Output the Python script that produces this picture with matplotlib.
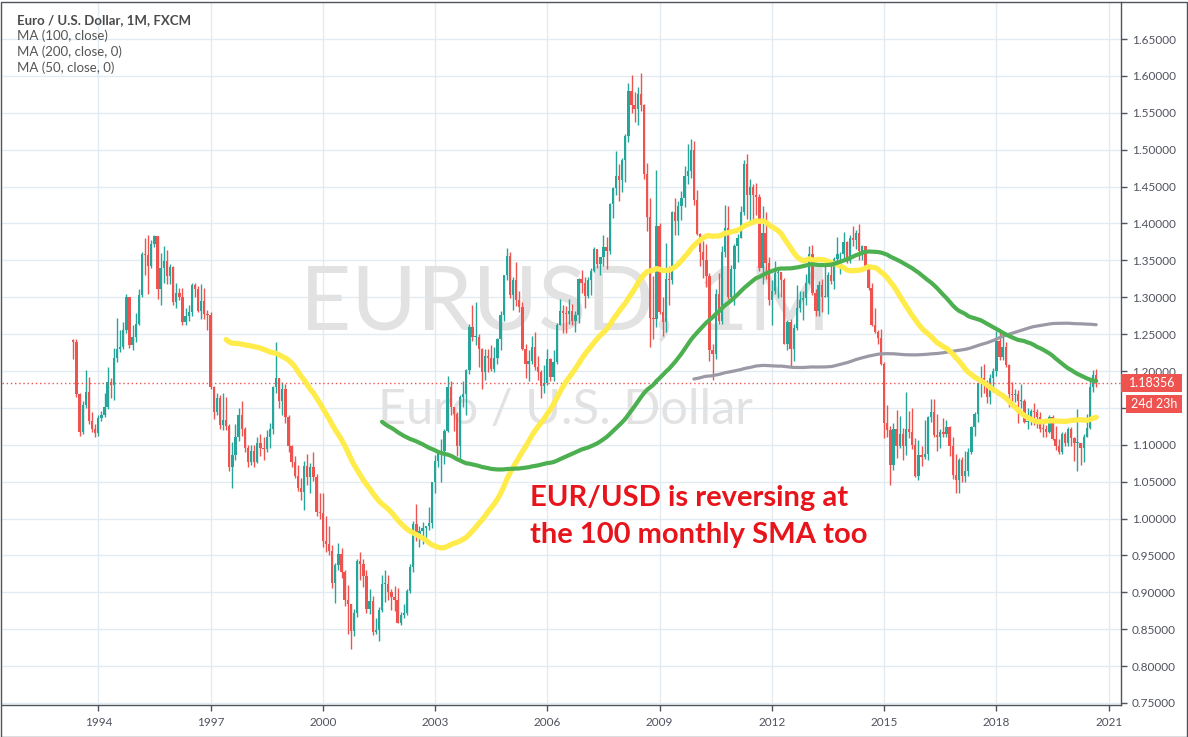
import numpy as np
import pandas as pd
import matplotlib
matplotlib.use("Agg")
import matplotlib.pyplot as plt
from matplotlib.patches import Rectangle

# EUR/USD monthly candles, May 1993 .. Sep 2020 (open = previous close)
first_open = 1.2425

close_1990s = [1.240, 1.169, 1.117, 1.154, 1.171, 1.132, 1.122, 1.116,
               1.136, 1.140, 1.151, 1.185, 1.181, 1.218, 1.230, 1.233, 1.255, 1.301, 1.235, 1.246,
               1.264, 1.303, 1.359, 1.357, 1.343, 1.372, 1.383, 1.311, 1.339, 1.349, 1.329, 1.341,
               1.294, 1.306, 1.300, 1.266, 1.275, 1.280, 1.317, 1.311, 1.282, 1.295, 1.277, 1.276,
               1.178, 1.145, 1.163, 1.127, 1.134, 1.126, 1.070, 1.086, 1.111, 1.140, 1.121, 1.096,
               1.077, 1.092, 1.076, 1.103, 1.095, 1.094, 1.110, 1.122, 1.178, 1.190, 1.159, 1.175,
               1.138, 1.098, 1.077, 1.058, 1.042, 1.036, 1.071, 1.056, 1.070, 1.056, 1.009, 1.008]
high_1990s = [1.244, 1.243, 1.170, 1.160, 1.202, 1.192, 1.145, 1.128,
              1.140, 1.146, 1.170, 1.206, 1.190, 1.231, 1.272, 1.255, 1.266, 1.305, 1.301, 1.262,
              1.278, 1.311, 1.361, 1.381, 1.384, 1.377, 1.384, 1.383, 1.360, 1.370, 1.364, 1.345,
              1.343, 1.320, 1.312, 1.312, 1.285, 1.290, 1.320, 1.320, 1.315, 1.318, 1.312, 1.283,
              1.280, 1.180, 1.170, 1.168, 1.170, 1.165, 1.128, 1.104, 1.128, 1.150, 1.160, 1.124,
              1.100, 1.100, 1.100, 1.110, 1.115, 1.110, 1.120, 1.130, 1.180, 1.239, 1.190, 1.185,
              1.183, 1.140, 1.100, 1.085, 1.072, 1.055, 1.078, 1.088, 1.075, 1.090, 1.060, 1.034]
low_1990s = [1.216, 1.165, 1.112, 1.114, 1.150, 1.128, 1.118, 1.110,
             1.112, 1.132, 1.138, 1.148, 1.164, 1.161, 1.212, 1.226, 1.230, 1.252, 1.231, 1.229,
             1.240, 1.262, 1.300, 1.330, 1.305, 1.340, 1.368, 1.297, 1.290, 1.320, 1.318, 1.318,
             1.289, 1.285, 1.296, 1.262, 1.262, 1.268, 1.275, 1.300, 1.280, 1.270, 1.270, 1.255,
             1.175, 1.135, 1.140, 1.122, 1.120, 1.120, 1.065, 1.041, 1.080, 1.105, 1.112, 1.090,
             1.070, 1.072, 1.070, 1.075, 1.085, 1.080, 1.090, 1.095, 1.115, 1.170, 1.150, 1.140,
             1.130, 1.090, 1.070, 1.055, 1.038, 1.025, 1.012, 1.045, 1.035, 1.051, 1.003, 1.000]

close_2000s = [0.970, 0.965, 0.956, 0.912, 0.937, 0.952, 0.927, 0.890, 0.884, 0.848, 0.872, 0.943,
               0.939, 0.922, 0.877, 0.888, 0.846, 0.849, 0.876, 0.911, 0.911, 0.900, 0.893, 0.890,
               0.859, 0.869, 0.872, 0.902, 0.934, 0.992, 0.977, 0.983, 0.987, 0.990, 0.994, 1.049,
               1.078, 1.090, 1.092, 1.119, 1.178, 1.151, 1.142, 1.099, 1.165, 1.169, 1.201, 1.260,
               1.246, 1.246, 1.230, 1.198, 1.220, 1.217, 1.203, 1.218, 1.243, 1.276, 1.330, 1.356,
               1.303, 1.323, 1.296, 1.287, 1.230, 1.209, 1.213, 1.233, 1.206, 1.198, 1.180, 1.184,
               1.216, 1.192, 1.212, 1.262, 1.281, 1.279, 1.277, 1.281, 1.268, 1.276, 1.325, 1.320,
               1.302, 1.323, 1.336, 1.366, 1.345, 1.354, 1.368, 1.363, 1.427, 1.448, 1.464, 1.459,
               1.486, 1.519, 1.579, 1.561, 1.555, 1.576, 1.561, 1.467, 1.409, 1.272, 1.270, 1.397,
               1.280, 1.267, 1.325, 1.323, 1.416, 1.403, 1.424, 1.434, 1.464, 1.471, 1.500, 1.432]
high_2000s = [1.035, 1.004, 0.990, 0.964, 0.940, 0.967, 0.960, 0.930, 0.910, 0.880, 0.878, 0.945,
              0.955, 0.945, 0.930, 0.905, 0.895, 0.865, 0.880, 0.924, 0.930, 0.923, 0.905, 0.909,
              0.906, 0.873, 0.884, 0.905, 0.938, 0.996, 1.020, 0.990, 0.995, 0.990, 1.015, 1.050,
              1.086, 1.093, 1.108, 1.122, 1.193, 1.186, 1.151, 1.145, 1.167, 1.186, 1.203, 1.264,
              1.289, 1.293, 1.250, 1.231, 1.230, 1.230, 1.235, 1.233, 1.245, 1.281, 1.330, 1.367,
              1.362, 1.327, 1.348, 1.308, 1.294, 1.237, 1.228, 1.248, 1.253, 1.221, 1.202, 1.208,
              1.230, 1.218, 1.228, 1.265, 1.298, 1.290, 1.288, 1.297, 1.291, 1.281, 1.326, 1.337,
              1.327, 1.328, 1.339, 1.368, 1.366, 1.355, 1.384, 1.382, 1.428, 1.450, 1.498, 1.480,
              1.489, 1.522, 1.590, 1.601, 1.578, 1.585, 1.604, 1.562, 1.482, 1.434, 1.329, 1.472,
              1.400, 1.301, 1.374, 1.342, 1.417, 1.434, 1.431, 1.444, 1.478, 1.508, 1.514, 1.512]
low_2000s = [0.962, 0.955, 0.951, 0.906, 0.886, 0.930, 0.920, 0.881, 0.844, 0.823, 0.841, 0.866,
             0.916, 0.907, 0.872, 0.870, 0.842, 0.844, 0.834, 0.873, 0.887, 0.890, 0.876, 0.875,
             0.858, 0.856, 0.865, 0.869, 0.899, 0.928, 0.970, 0.962, 0.966, 0.970, 0.985, 0.987,
             1.035, 1.070, 1.050, 1.074, 1.118, 1.141, 1.119, 1.085, 1.077, 1.151, 1.141, 1.196,
             1.241, 1.235, 1.206, 1.176, 1.188, 1.199, 1.200, 1.198, 1.209, 1.228, 1.268, 1.323,
             1.299, 1.283, 1.288, 1.280, 1.228, 1.190, 1.187, 1.210, 1.201, 1.188, 1.164, 1.170,
             1.181, 1.186, 1.187, 1.209, 1.264, 1.252, 1.251, 1.264, 1.262, 1.253, 1.265, 1.306,
             1.285, 1.299, 1.303, 1.334, 1.339, 1.330, 1.343, 1.338, 1.359, 1.408, 1.438, 1.430,
             1.443, 1.456, 1.510, 1.550, 1.537, 1.534, 1.553, 1.460, 1.390, 1.233, 1.244, 1.260,
             1.277, 1.248, 1.253, 1.290, 1.318, 1.385, 1.385, 1.405, 1.422, 1.454, 1.462, 1.425]

close_2010s = [1.386, 1.362, 1.351, 1.329, 1.229, 1.223, 1.305, 1.268, 1.362, 1.394, 1.300, 1.338,
               1.369, 1.381, 1.416, 1.481, 1.438, 1.450, 1.439, 1.436, 1.339, 1.387, 1.346, 1.296,
               1.308, 1.333, 1.334, 1.324, 1.237, 1.266, 1.230, 1.258, 1.286, 1.296, 1.299, 1.319,
               1.358, 1.306, 1.282, 1.317, 1.300, 1.301, 1.330, 1.322, 1.352, 1.358, 1.359, 1.375,
               1.349, 1.381, 1.377, 1.387, 1.363, 1.369, 1.339, 1.313, 1.263, 1.253, 1.245, 1.210,
               1.129, 1.120, 1.073, 1.122, 1.099, 1.115, 1.098, 1.121, 1.118, 1.100, 1.057, 1.086,
               1.083, 1.087, 1.138, 1.145, 1.113, 1.110, 1.117, 1.115, 1.124, 1.098, 1.059, 1.052,
               1.080, 1.058, 1.065, 1.090, 1.124, 1.142, 1.184, 1.191, 1.181, 1.165, 1.190, 1.200,
               1.241, 1.219, 1.232, 1.208, 1.169, 1.168, 1.169, 1.160, 1.160, 1.131, 1.132, 1.146,
               1.145, 1.137, 1.122, 1.121, 1.117, 1.137, 1.108, 1.099, 1.090, 1.115, 1.102, 1.121,
               1.109, 1.103, 1.103, 1.096, 1.110, 1.123, 1.178, 1.194, 1.18356]
high_2010s = [1.446, 1.387, 1.376, 1.372, 1.333, 1.237, 1.311, 1.333, 1.370, 1.425, 1.424, 1.344,
              1.372, 1.386, 1.424, 1.486, 1.494, 1.460, 1.454, 1.455, 1.440, 1.424, 1.416, 1.355,
              1.323, 1.349, 1.339, 1.330, 1.326, 1.269, 1.270, 1.264, 1.317, 1.309, 1.308, 1.331,
              1.369, 1.371, 1.311, 1.322, 1.325, 1.342, 1.334, 1.345, 1.355, 1.382, 1.362, 1.389,
              1.376, 1.384, 1.397, 1.391, 1.399, 1.371, 1.370, 1.344, 1.319, 1.285, 1.255, 1.257,
              1.212, 1.154, 1.125, 1.130, 1.147, 1.139, 1.123, 1.171, 1.146, 1.150, 1.109, 1.106,
              1.098, 1.134, 1.139, 1.162, 1.162, 1.142, 1.122, 1.136, 1.133, 1.126, 1.110, 1.087,
              1.082, 1.083, 1.091, 1.095, 1.126, 1.145, 1.185, 1.207, 1.209, 1.188, 1.196, 1.204,
              1.254, 1.256, 1.248, 1.240, 1.210, 1.185, 1.175, 1.174, 1.182, 1.162, 1.150, 1.149,
              1.157, 1.149, 1.145, 1.133, 1.127, 1.141, 1.141, 1.125, 1.108, 1.118, 1.117, 1.124,
              1.124, 1.110, 1.149, 1.102, 1.114, 1.142, 1.190, 1.201, 1.203]
low_2010s = [1.384, 1.343, 1.326, 1.314, 1.214, 1.188, 1.216, 1.264, 1.264, 1.354, 1.298, 1.296,
             1.290, 1.348, 1.382, 1.412, 1.406, 1.401, 1.399, 1.411, 1.336, 1.318, 1.325, 1.289,
             1.262, 1.304, 1.299, 1.300, 1.236, 1.229, 1.205, 1.213, 1.255, 1.280, 1.269, 1.289,
             1.318, 1.303, 1.274, 1.275, 1.280, 1.300, 1.277, 1.318, 1.311, 1.348, 1.332, 1.353,
             1.347, 1.346, 1.370, 1.366, 1.351, 1.350, 1.337, 1.310, 1.261, 1.251, 1.236, 1.208,
             1.109, 1.110, 1.046, 1.066, 1.082, 1.095, 1.079, 1.086, 1.109, 1.094, 1.056, 1.052,
             1.071, 1.081, 1.080, 1.131, 1.110, 1.091, 1.095, 1.111, 1.110, 1.085, 1.053, 1.035,
             1.034, 1.049, 1.050, 1.058, 1.088, 1.112, 1.131, 1.165, 1.170, 1.157, 1.155, 1.171,
             1.193, 1.215, 1.215, 1.206, 1.151, 1.151, 1.158, 1.130, 1.150, 1.130, 1.122, 1.127,
             1.127, 1.123, 1.118, 1.111, 1.110, 1.116, 1.106, 1.093, 1.088, 1.088, 1.098, 1.098,
             1.099, 1.078, 1.064, 1.073, 1.077, 1.117, 1.122, 1.171, 1.179]

year_ticks = list(range(1994, 2022, 3))
price_ticks = [0.75, 0.80, 0.85, 0.90, 0.95, 1.00, 1.05, 1.10, 1.15, 1.20,
               1.25, 1.30, 1.35, 1.40, 1.45, 1.50, 1.55, 1.60, 1.65]
last_price = 1.18356
legend_lines = ["Euro / U.S. Dollar, 1M, FXCM", "MA (100, close)",
                "MA (200, close, 0)", "MA (50, close, 0)"]

# ---- build series
close = np.array(close_1990s + close_2000s + close_2010s)
opens = np.concatenate([[first_open], close[:-1]])
high = np.maximum(np.array(high_1990s + high_2000s + high_2010s), np.maximum(opens, close))
low = np.minimum(np.array(low_1990s + low_2000s + low_2010s), np.minimum(opens, close))
dates = pd.date_range("1993-05-01", periods=len(close), freq="MS")
t = np.array(dates.year + (dates.month - 1) / 12.0)

s = pd.Series(close)
ma50 = s.rolling(50).mean()
ma100 = s.rolling(100).mean()
ma200 = s.rolling(200).mean()

UP, DOWN = "#26a69a", "#ef5350"
W, H = 1188, 737
plt.rcParams["font.family"] = ["Lato", "DejaVu Sans"]

fig = plt.figure(figsize=(W / 100, H / 100), dpi=100)
ax = fig.add_axes([2 / W, 1 - 705 / H, (1121 - 2) / W, (705 - 2) / H])

def fx(x):
    return x / W

def fy(y):
    return 1 - y / H

# ---- watermark (inside the axes, under the candles)
ax.text(fx(565), fy(305), "EURUSD, 1M", fontsize=64, color="#e2e2e2",
        ha="center", va="center", zorder=0.8, transform=fig.transFigure)
ax.text(fx(565), fy(410), "Euro / U.S. Dollar", fontsize=35, color="#e2e2e2",
        ha="center", va="center", zorder=0.8, transform=fig.transFigure)

# ---- candles
up = close >= opens
cols = np.where(up, UP, DOWN)
ax.vlines(t, low, high, colors=cols, linewidth=1.0, zorder=2)
body_lo = np.minimum(opens, close)
body_h = np.maximum(np.abs(close - opens), 0.0012)
ax.bar(t, body_h, bottom=body_lo, width=0.062, color=cols, linewidth=0, zorder=2.1)

# ---- moving averages
ax.plot(t, ma200, color="#9b99a5", lw=2.3, zorder=3, solid_capstyle="round")
ax.plot(t, ma50, color="#ffec4a", lw=3.8, zorder=3.1, solid_capstyle="round")
ax.plot(t, ma100, color="#4caf50", lw=3.0, zorder=3.2, solid_capstyle="round")

ax.axhline(last_price, color=DOWN, lw=1, ls=(0, (1, 2)), zorder=2.5)

# ---- axes
ax.set_xlim(1991.427, 2021.33)
ax.set_ylim(0.7472, 1.7003)
ax.set_xticks(year_ticks)
ax.set_xticklabels([str(y) for y in year_ticks])
ax.set_yticks(price_ticks)
# 1.15000 sits under the countdown box in the reference
ax.set_yticklabels(["" if abs(p - 1.15) < 1e-9 else "%.5f" % p for p in price_ticks])
ax.yaxis.tick_right()
ax.grid(True, color="#e3ebf2", lw=1)
ax.set_axisbelow(True)
ax.tick_params(axis="y", length=4, width=1, color="#50535e", labelcolor="#50535e",
               labelsize=8.5, pad=4)
ax.tick_params(axis="x", length=4, width=1, color="#50535e", labelcolor="#50535e",
               labelsize=8.5, pad=5)
for side in ["top", "left"]:
    ax.spines[side].set_visible(False)
for side in ["right", "bottom"]:
    ax.spines[side].set_color("#50535e")
    ax.spines[side].set_linewidth(1)

# ---- legend text top-left
for i, line in enumerate(legend_lines):
    fig.text(fx(17), fy(20 + 16 * i), line, fontsize=9.5,
             color="#4a4a4a" if i == 0 else "#555555",
             weight="bold" if i == 0 else "normal", va="center", ha="left")

# ---- annotation
fig.text(fx(530), fy(498), "EUR/USD is reversing at", fontsize=21.0, color="#e8141b",
         weight="bold", va="center", ha="left")
fig.text(fx(530), fy(535), "the 100 monthly SMA too", fontsize=21.0, color="#e8141b",
         weight="bold", va="center", ha="left")

# ---- last price boxes
fig.patches.append(Rectangle((fx(1121), fy(392)), fx(61), 18 / H, transform=fig.transFigure,
                             facecolor=DOWN, edgecolor="none", zorder=5))
fig.text(fx(1152), fy(383), "%.5f" % last_price, fontsize=9, color="white",
         ha="center", va="center", zorder=6)
fig.patches.append(Rectangle((fx(1126), fy(413)), fx(56), 18 / H, transform=fig.transFigure,
                             facecolor=DOWN, edgecolor="none", zorder=5))
fig.text(fx(1154), fy(404), "24d 23h", fontsize=9, color="white",
         ha="center", va="center", zorder=6)

# outer frame
fig.patches.append(Rectangle((0.5 / W, 0.5 / H), (W - 2) / W, (H - 2) / H,
                             transform=fig.transFigure, facecolor="none",
                             edgecolor="#50535e", lw=1, zorder=7))

fig.savefig("out.png", dpi=100, facecolor="white")
